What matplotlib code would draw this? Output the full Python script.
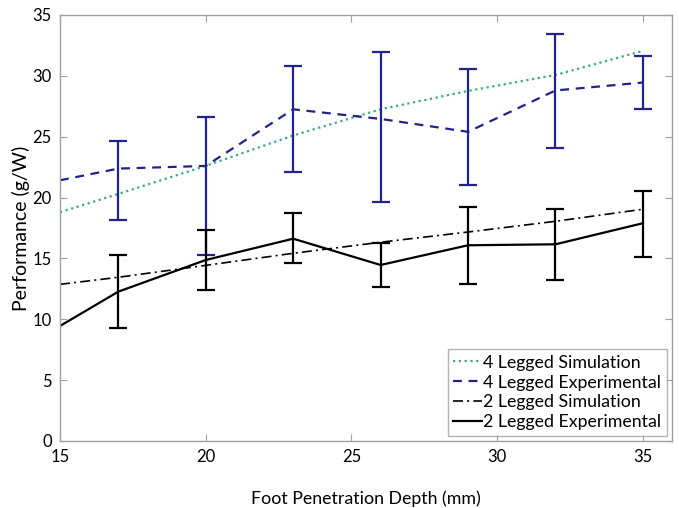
import matplotlib
matplotlib.use("Agg")
import matplotlib.pyplot as plt

# Foot penetration depth (mm)
depth = [15, 17, 20, 23, 26, 29, 32, 35]
depth_err = [17, 20, 23, 26, 29, 32, 35]

# 4 legged robot
sim4 = [18.8, 20.3, 22.6, 25.1, 27.25, 28.76, 30.07, 32.05]
exp4 = [21.42, 22.38, 22.6, 27.25, 26.46, 25.4, 28.8, 29.45]
exp4_err_mean = [22.38, 22.6, 27.25, 26.46, 25.4, 28.8, 29.45]
exp4_lo = [18.13, 15.28, 22.08, 19.6, 21.0, 24.07, 27.3]
exp4_hi = [24.65, 26.65, 30.8, 31.96, 30.54, 33.4, 31.6]

# 2 legged robot
sim2 = [12.87, 13.45, 14.43, 15.42, 16.33, 17.17, 18.05, 19.04]
exp2 = [9.45, 12.27, 14.87, 16.62, 14.46, 16.08, 16.16, 17.89]
exp2_err_mean = [12.27, 14.87, 16.62, 14.46, 16.08, 16.16, 17.89]
exp2_lo = [9.26, 12.41, 14.6, 12.63, 12.9, 13.23, 15.15]
exp2_hi = [15.28, 17.31, 18.7, 16.24, 19.25, 19.04, 20.57]

navy = "#22228c"
teal = "#3aa888"
grey = "#a0a0a0"

plt.rcParams['font.family'] = ['Lato', 'DejaVu Sans']

fig = plt.figure(figsize=(6.79, 5.08), dpi=100)
ax = fig.add_axes([0.0884, 0.1319, 0.9013, 0.8386])

ax.plot(depth, sim4, linestyle=(0, (1, 1.6)), color=teal, lw=1.6,
        label="4 Legged Simulation")
ax.plot(depth, exp4, linestyle=(0, (4, 3)), color=navy, lw=1.6,
        label="4 Legged Experimental")
ax.plot(depth, sim2, linestyle=(0, (6, 2.5, 1.2, 2.5)), color="black", lw=1.2,
        label="2 Legged Simulation")
ax.plot(depth, exp2, linestyle="-", color="black", lw=1.6,
        label="2 Legged Experimental")

def yerr(mean, lo, hi):
    return [[m - l for m, l in zip(mean, lo)], [h - m for m, h in zip(mean, hi)]]

ax.errorbar(depth_err, exp4_err_mean, yerr=yerr(exp4_err_mean, exp4_lo, exp4_hi),
            fmt="none", ecolor=navy, elinewidth=1.6, capsize=6.2, capthick=1.6)
ax.errorbar(depth_err, exp2_err_mean, yerr=yerr(exp2_err_mean, exp2_lo, exp2_hi),
            fmt="none", ecolor="black", elinewidth=1.6, capsize=6.2, capthick=1.6)

ax.set_xlim(15, 36)
ax.set_ylim(0, 35)
ax.set_xticks([15, 20, 25, 30, 35])
ax.set_yticks(range(0, 36, 5))

for s in ax.spines.values():
    s.set_color(grey)
    s.set_linewidth(1.0)
ax.tick_params(direction="in", top=True, right=True, color=grey, length=5,
               labelsize=12, labelcolor="black")
ax.tick_params(axis="x", pad=6)
ax.tick_params(axis="y", pad=6)

ax.set_xlabel("Foot Penetration Depth (mm)", fontsize=12.8, labelpad=18)
ax.set_ylabel("Performance (g/W)", fontsize=14, labelpad=2)

leg = ax.legend(loc="lower right", fontsize=12.8, frameon=True, fancybox=False,
                handlelength=1.6, handletextpad=0.1, borderpad=0.3,
                labelspacing=0.22, borderaxespad=0.3)
leg.get_frame().set_edgecolor(grey)
leg.get_frame().set_linewidth(1.0)

fig.savefig("out.png", dpi=100)
